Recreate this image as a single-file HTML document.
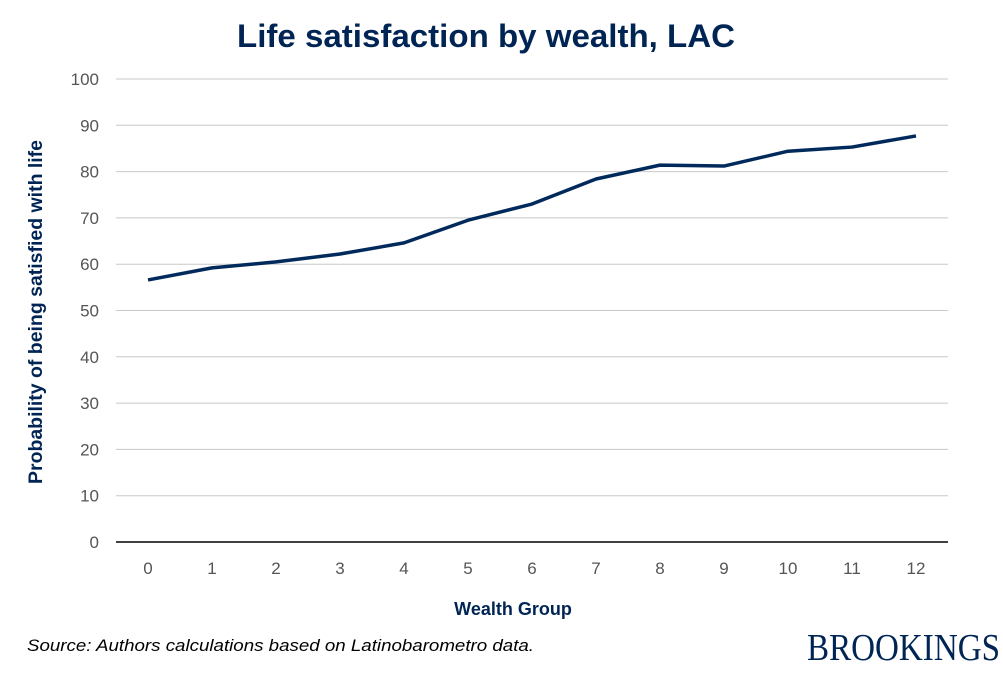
<!DOCTYPE html>
<html><head><meta charset="utf-8"><style>
body{margin:0;background:#fff;width:1003px;height:671px;overflow:hidden;font-family:"Liberation Sans",Arial,sans-serif}
</style></head><body>
<svg width="1003" height="671">
<text x="486" y="47" text-anchor="middle" font-size="32" font-weight="bold" fill="#002554" textLength="498" lengthAdjust="spacingAndGlyphs">Life satisfaction by wealth, LAC</text>
<g id="grid"></g>
<g id="yt"></g>
<g id="xt"></g>
<path id="line" fill="none" stroke="#002a5c" stroke-width="3.5" stroke-linejoin="round"/>
<text transform="translate(42,312) rotate(-90)" text-anchor="middle" font-size="19" font-weight="bold" fill="#002554" textLength="344" lengthAdjust="spacingAndGlyphs">Probability of being satisfied with life</text>
<text x="513" y="615" text-anchor="middle" font-size="18" font-weight="bold" fill="#002554">Wealth Group</text>
<text x="27" y="651" font-size="17" font-style="italic" fill="#000" textLength="507" lengthAdjust="spacingAndGlyphs">Source: Authors calculations based on Latinobarometro data.</text>
<text x="1000" y="660" text-anchor="end" font-size="38" font-family="Liberation Serif,serif" fill="#002554" textLength="193" lengthAdjust="spacingAndGlyphs">BROOKINGS</text>
</svg>
<script>
const categories=[0,1,2,3,4,5,6,7,8,9,10,11,12];
const values=[56.6,59.2,60.5,62.2,64.6,69.5,73.0,78.4,81.4,81.2,84.4,85.3,87.7];
const yTicks=[0,10,20,30,40,50,60,70,80,90,100];
const ns="http://www.w3.org/2000/svg";
const x=i=>148+i*64, y=v=>542-v*4.63;
const g=document.getElementById('grid'),yt=document.getElementById('yt'),xt=document.getElementById('xt');
yTicks.forEach(t=>{
 const l=document.createElementNS(ns,'line');
 
 
 l.setAttribute('x1',116);l.setAttribute('x2',948);l.setAttribute('y1',y(t));l.setAttribute('y2',y(t));
 l.setAttribute('stroke',t===0?'#000':'#c8c8c8');l.setAttribute('stroke-width',t===0?1.5:1);
 g.appendChild(l);
 const tx=document.createElementNS(ns,'text');
 
 
 tx.setAttribute('x',99);tx.setAttribute('y',y(t)+6);tx.setAttribute('text-anchor','end');
 tx.setAttribute('font-size',17);tx.setAttribute('fill','#555');tx.textContent=t;yt.appendChild(tx);
});
categories.forEach((c,i)=>{
 const tx=document.createElementNS(ns,'text');
 
 
 tx.setAttribute('x',x(i));tx.setAttribute('y',574);tx.setAttribute('text-anchor','middle');
 tx.setAttribute('font-size',17);tx.setAttribute('fill','#555');tx.textContent=c;xt.appendChild(tx);
});
document.getElementById('line').setAttribute('d',values.map((v,i)=>(i?'L':'M')+x(i)+','+y(v)).join(''));
</script>
</body></html>
